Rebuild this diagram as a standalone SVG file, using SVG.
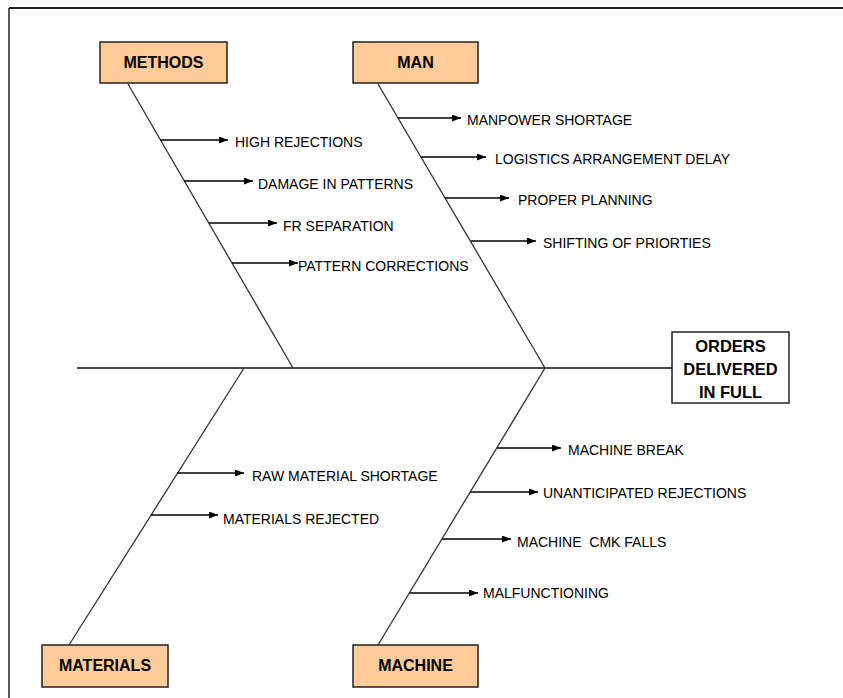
<svg xmlns="http://www.w3.org/2000/svg" width="843" height="698" viewBox="0 0 843 698">
<defs>
<marker id="ah" markerWidth="9" markerHeight="7" refX="9" refY="3.5" orient="auto" markerUnits="userSpaceOnUse">
<path d="M0,0 L9,3.5 L0,7 Z" fill="#000"/>
</marker>
</defs>
<style>
.frame{fill:none;stroke:#222;}
.box{fill:#FFCC99;stroke:#222;stroke-width:1.5;}
.res{fill:#fff;stroke:#222;stroke-width:1.5;}
.lbl{font-family:"Liberation Sans",Arial,sans-serif;font-size:16px;font-weight:bold;fill:#000;text-anchor:middle;}
.t{font-family:"Liberation Sans",Arial,sans-serif;font-size:14px;fill:#000;}
.bone{stroke:#333;stroke-width:1.3;fill:none;}
.spine{stroke:#111;stroke-width:1.6;fill:none;}
.br{stroke:#000;stroke-width:1.3;fill:none;marker-end:url(#ah);}
</style>
<rect width="843" height="698" fill="#fff"/>
<line class="frame" x1="9" y1="8" x2="843" y2="8" stroke-width="2.2"/>
<line class="frame" x1="9" y1="8" x2="9" y2="698" stroke-width="1.5"/>

<g id="connectors">
<line class="spine" x1="77" y1="368" x2="672" y2="368"/>
<line class="bone" x1="128" y1="84" x2="293" y2="368"/>
<line class="bone" x1="378" y1="84" x2="545" y2="368"/>
<line class="bone" x1="244" y1="368" x2="69" y2="645"/>
<line class="bone" x1="545" y1="368" x2="378" y2="645"/>
<line class="br" x1="160" y1="140" x2="228" y2="140"/>
<line class="br" x1="184" y1="181" x2="253" y2="181"/>
<line class="br" x1="209" y1="223" x2="277" y2="223"/>
<line class="br" x1="232" y1="263" x2="298" y2="263"/>
<line class="br" x1="398" y1="118" x2="461" y2="118"/>
<line class="br" x1="421" y1="157" x2="486" y2="157"/>
<line class="br" x1="445" y1="198" x2="509" y2="198"/>
<line class="br" x1="471" y1="241" x2="536" y2="241"/>
<line class="br" x1="177" y1="473" x2="244" y2="473"/>
<line class="br" x1="151" y1="515" x2="218" y2="515"/>
<line class="br" x1="497" y1="448" x2="561" y2="448"/>
<line class="br" x1="470" y1="492" x2="538" y2="492"/>
<line class="br" x1="442" y1="539" x2="511" y2="539"/>
<line class="br" x1="409" y1="593" x2="478" y2="593"/>
</g>

<g id="methods">
<rect class="box" x="100" y="42" width="127" height="41"/>
<text class="lbl" x="163.5" y="68">METHODS</text>
</g>
<g id="man">
<rect class="box" x="353" y="42" width="125" height="41"/>
<text class="lbl" x="415.5" y="68">MAN</text>
</g>
<g id="materials">
<rect class="box" x="42" y="645" width="126" height="42"/>
<text class="lbl" x="105" y="671">MATERIALS</text>
</g>
<g id="machine">
<rect class="box" x="353" y="645" width="125" height="42"/>
<text class="lbl" x="415.5" y="671">MACHINE</text>
</g>
<g id="result">
<rect class="res" x="672" y="332" width="117" height="71"/>
<text class="lbl" x="730.5" y="352" style="font-size:16.5px">ORDERS</text>
<text class="lbl" x="730.5" y="375" style="font-size:16.5px">DELIVERED</text>
<text class="lbl" x="730.5" y="398" style="font-size:16.5px">IN FULL</text>
</g>

<g id="causes">
<text class="t" x="235" y="147">HIGH REJECTIONS</text>
<text class="t" x="258" y="189">DAMAGE IN PATTERNS</text>
<text class="t" x="283" y="231">FR SEPARATION</text>
<text class="t" x="298" y="271">PATTERN CORRECTIONS</text>
<text class="t" x="467" y="125">MANPOWER SHORTAGE</text>
<text class="t" x="495" y="164">LOGISTICS ARRANGEMENT DELAY</text>
<text class="t" x="518" y="205">PROPER PLANNING</text>
<text class="t" x="543" y="248">SHIFTING OF PRIORTIES</text>
<text class="t" x="252" y="481">RAW MATERIAL SHORTAGE</text>
<text class="t" x="223" y="524">MATERIALS REJECTED</text>
<text class="t" x="568" y="455">MACHINE BREAK</text>
<text class="t" x="543" y="498">UNANTICIPATED REJECTIONS</text>
<text class="t" x="517" y="547" xml:space="preserve">MACHINE  CMK FALLS</text>
<text class="t" x="483" y="598">MALFUNCTIONING</text>
</g>
</svg>
